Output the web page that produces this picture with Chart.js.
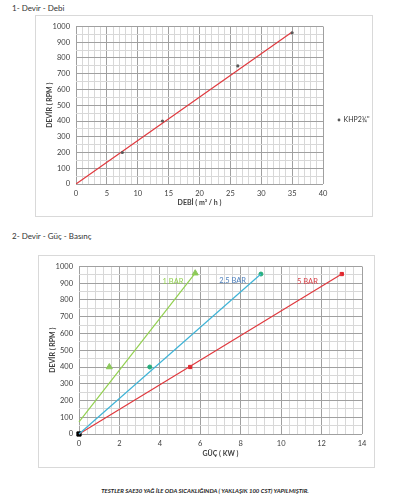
<!DOCTYPE html>
<html>
<head>
<meta charset="utf-8">
<script src="https://cdn.jsdelivr.net/npm/chart.js@4.4.1/dist/chart.umd.min.js"></script>
<style>
    body { margin: 0; background: #fff; font-family: Lato, "Open Sans", sans-serif; color: #333; }
    .cap { position: absolute; font-size: 8px; color: #333; white-space: nowrap; }
    .box { position: absolute; border: 1px solid #d9d9d9; background: #fff; }
    .box canvas { display: block; }
    .note { position: absolute; left: 0; width: 410px; top: 487px; text-align: center;
            font-size: 6px; font-weight: bold; font-style: italic; color: #222; }
</style>
</head>
<body>
<div class="cap" style="left:12px;top:3px;">1- Devir - Debi</div>
<div class="box" style="left:35px;top:15px;width:336px;height:200px;">
    <canvas id="graficoDebi" width="336" height="200"></canvas>
</div>

<div class="cap" style="left:12px;top:231px;">2- Devir - Güç - Basınç</div>
<div class="box" style="left:38px;top:255px;width:335px;height:211px;">
    <canvas id="graficoGuc" width="335" height="211"></canvas>
</div>

<div class="note">TESTLER SAE30 YAĞ İLE ODA SICAKLIĞINDA ( YAKLAŞIK 100 CST) YAPILMIŞTIR.</div>

<script>
// --- Grafik 1: Devir - Debi ---
const debiX = [7.5, 14, 26.2, 35];
const debiRpm = [200, 400, 750, 960];
const debiTrendX = [0, 35];
const debiTrendRpm = [0, 965];
const debiSerie = "KHP2¾\"";

// --- Grafik 2: Devir - Güç - Basınç ---
const bar1Kw = [1.5, 5.75];
const bar1Rpm = [400, 960];
const bar1TrendKw = [0, 5.75];
const bar1TrendRpm = [72, 960];

const bar25Kw = [3.5, 9];
const bar25Rpm = [400, 955];
const bar25TrendKw = [0, 9];
const bar25TrendRpm = [0, 955];

const bar5Kw = [5.5, 13];
const bar5Rpm = [400, 955];
const bar5TrendKw = [0, 13];
const bar5TrendRpm = [0, 955];

const origenKw = [0];
const origenRpm = [0];

const basincEtiketleri = ["1 BAR", "2,5 BAR", "5 BAR"];

const pares = (xs, ys) => xs.map((x, i) => ({ x: x, y: ys[i] }));

const fuenteTick = { family: "Lato", size: 7.5 };
const fuenteTitulo = { family: "Lato", size: 7, weight: "bold" };
const grisMayor = "#a0a0a0";
const grisMenor = "#d8d8d8";

function esMultiplo(v, paso) {
    const q = v / paso;
    return Math.abs(q - Math.round(q)) < 1e-6;
}

function ejeX(max, paso, mayor, titulo, altoEje) {
    return {
        type: "linear", min: 0, max: max,
        afterFit: s => { s.height = altoEje; },
        ticks: {
            stepSize: paso, autoSkip: false, maxRotation: 0, padding: 5,
            font: fuenteTick, color: "#404040",
            callback: v => esMultiplo(v, mayor) ? String(Math.round(v)) : ""
        },
        grid: {
            drawTicks: false,
            color: c => esMultiplo(c.tick.value, mayor) ? grisMayor : grisMenor
        },
        border: { display: false },
        title: { display: true, text: titulo, font: fuenteTitulo, color: "#404040", padding: { top: 0, bottom: 9 } }
    };
}

function ejeY() {
    return {
        type: "linear", min: 0, max: 1000,
        afterFit: s => { s.width = 40; },
        ticks: {
            stepSize: 50, autoSkip: false, padding: 6,
            font: fuenteTick, color: "#404040",
            callback: v => esMultiplo(v, 100) ? String(v) : ""
        },
        grid: {
            drawTicks: false,
            color: c => esMultiplo(c.tick.value, 100) ? grisMayor : grisMenor
        },
        border: { display: false },
        title: { display: true, text: "DEVİR ( RPM )", font: fuenteTitulo, color: "#404040", padding: { top: 10, bottom: 0 } }
    };
}

new Chart(document.getElementById("graficoDebi"), {
    type: "scatter",
    data: {
        datasets: [{
            label: debiSerie,
            data: pares(debiX, debiRpm),
            pointStyle: "circle",
            pointRadius: 1.6,
            backgroundColor: "#595959",
            borderColor: "#595959",
            borderWidth: 0
        }, {
            label: "trend",
            type: "line",
            data: pares(debiTrendX, debiTrendRpm),
            borderColor: "#e0393e",
            borderWidth: 1.2,
            pointRadius: 0
        }]
    },
    options: {
        responsive: false,
        animation: false,
        layout: { padding: { top: 8, right: 0, left: 0, bottom: 0 } },
        scales: {
            x: ejeX(40, 1, 5, "DEBİ ( m³ / h )", 32),
            y: ejeY()
        },
        plugins: {
            legend: {
                display: true, position: "right", maxWidth: 49,
                labels: {
                    filter: item => item.datasetIndex === 0,
                    usePointStyle: true, boxWidth: 2, boxHeight: 2,
                    font: { family: "Lato", size: 7 }, color: "#333", padding: 15
                }
            },
            tooltip: { enabled: false }
        }
    }
});

// Etiquetas de presión sobre las rectas
const etiquetasPlugin = {
    id: "etiquetasBasinc",
    afterDatasetsDraw(chart, args, opts) {
        const { ctx, scales: { x, y } } = chart;
        ctx.save();
        ctx.font = "7.5px Lato";
        ctx.textAlign = "center";
        ctx.textBaseline = "middle";
        opts.items.forEach(it => {
            ctx.fillStyle = it.color;
            ctx.fillText(it.text, x.getPixelForValue(it.x), y.getPixelForValue(it.y));
        });
        ctx.restore();
    }
};

new Chart(document.getElementById("graficoGuc"), {
    type: "scatter",
    data: {
        datasets: [{
            label: basincEtiketleri[0],
            type: "line",
            data: pares(bar1TrendKw, bar1TrendRpm),
            borderColor: "#92d050", borderWidth: 1.2, pointRadius: 0
        }, {
            label: basincEtiketleri[1],
            type: "line",
            data: pares(bar25TrendKw, bar25TrendRpm),
            borderColor: "#3fb3d6", borderWidth: 1.2, pointRadius: 0
        }, {
            label: basincEtiketleri[2],
            type: "line",
            data: pares(bar5TrendKw, bar5TrendRpm),
            borderColor: "#e0393e", borderWidth: 1.2, pointRadius: 0
        }, {
            label: "1 BAR ölçüm",
            data: pares(bar1Kw, bar1Rpm),
            pointStyle: "triangle", pointRadius: 3.5,
            backgroundColor: "#8cc85a", borderColor: "#8cc85a"
        }, {
            label: "2,5 BAR ölçüm",
            data: pares(bar25Kw, bar25Rpm),
            pointStyle: "circle", pointRadius: 2,
            backgroundColor: "#25ae7c", borderColor: "#25ae7c"
        }, {
            label: "5 BAR ölçüm",
            data: pares(bar5Kw, bar5Rpm),
            pointStyle: "rect", pointRadius: 2.3,
            backgroundColor: "#e0242b", borderColor: "#e0242b"
        }, {
            label: "0",
            data: pares(origenKw, origenRpm),
            pointStyle: "rect", pointRadius: 3,
            backgroundColor: "#000", borderColor: "#000"
        }]
    },
    options: {
        responsive: false,
        animation: false,
        clip: false,
        layout: { padding: { top: 7, right: 12, left: 0, bottom: 0 } },
        scales: {
            x: ejeX(14, 0.4, 2, "GÜÇ ( KW )", 33),
            y: ejeY()
        },
        plugins: {
            legend: { display: false },
            tooltip: { enabled: false },
            etiquetasBasinc: {
                items: [
                    { text: basincEtiketleri[0], x: 4.65, y: 912, color: "#92d050" },
                    { text: basincEtiketleri[1], x: 7.6, y: 918, color: "#4f81bd" },
                    { text: basincEtiketleri[2], x: 11.3, y: 912, color: "#d9434a" }
                ]
            }
        }
    },
    plugins: [etiquetasPlugin]
});
</script>
</body>
</html>
